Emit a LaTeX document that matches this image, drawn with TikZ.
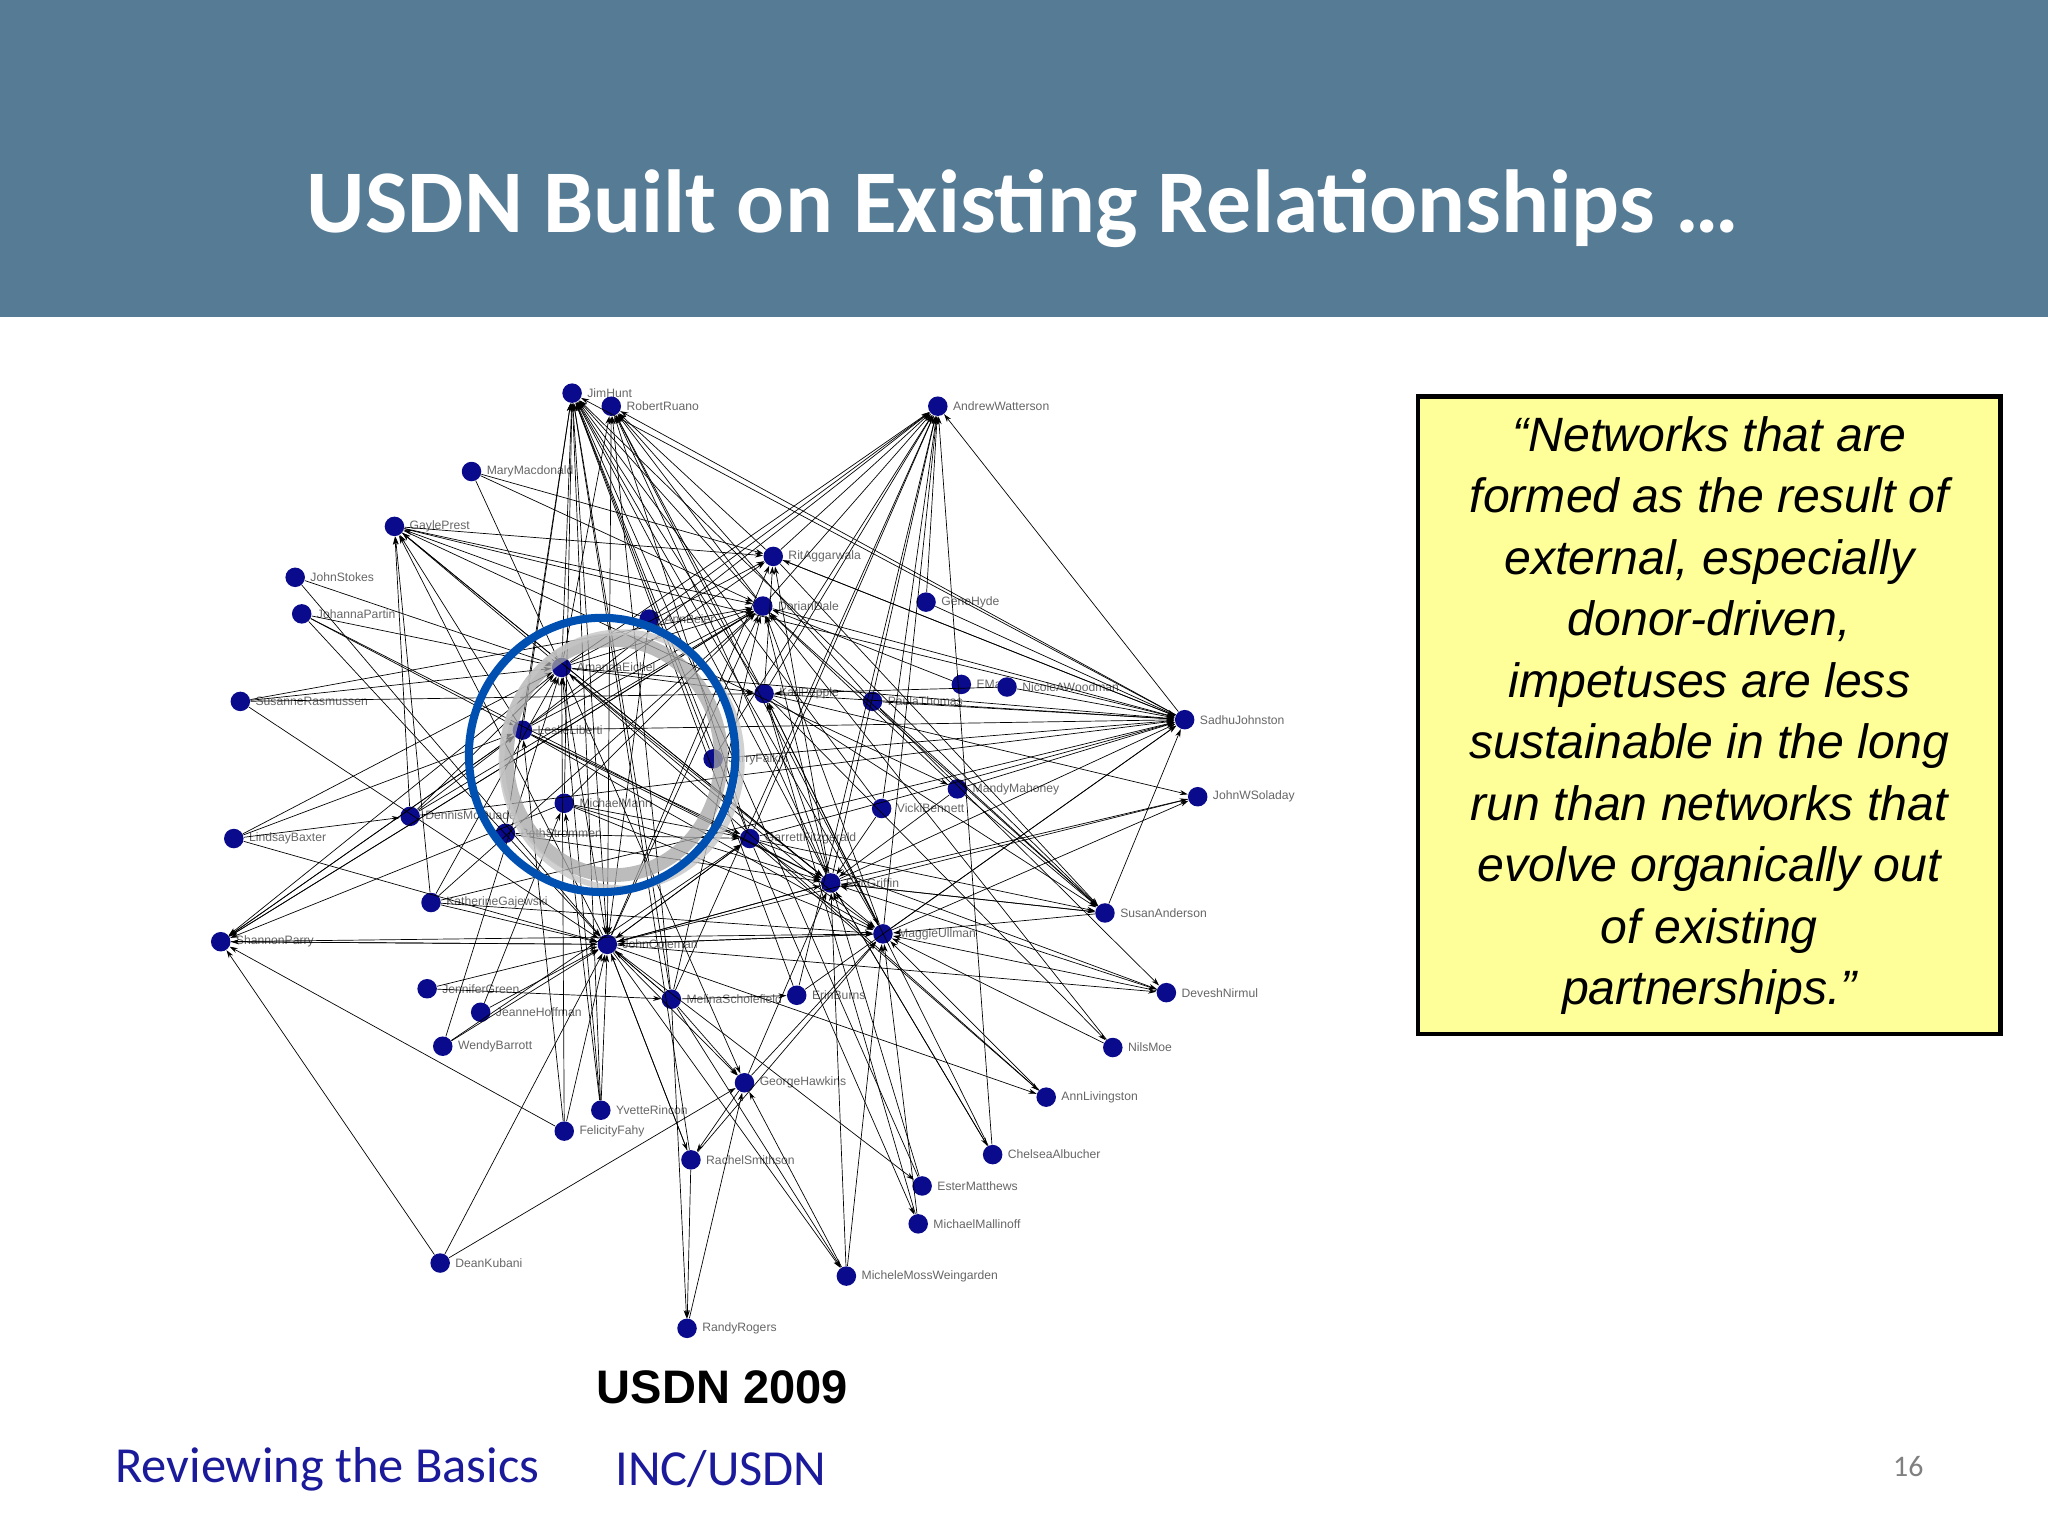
\documentclass[tikz,border=0pt]{standalone}
\usepackage{fontspec}
\setmainfont{Liberation Sans}
\newfontfamily\calfont{Carlito}
\usetikzlibrary{arrows.meta}
\definecolor{band}{HTML}{557B95}
\definecolor{nodeblue}{HTML}{0A0A8C}
\definecolor{boxy}{HTML}{FFFF99}
\definecolor{navy}{HTML}{1A1A9A}
\begin{document}
\begin{tikzpicture}[x=0.02cm,y=-0.02cm,
  nd/.style={circle,fill=nodeblue,inner sep=0pt,minimum size=8.5pt},
  lbl/.style={font=\fontsize{5.3}{6}\selectfont,text=black!60,inner sep=1pt,label distance=1pt},
  edge/.style={line width=0.3pt,-{Stealth[length=3.5pt,width=2.2pt]}}]
\useasboundingbox (0,0) rectangle (1568,1176);
\fill[band] (0,0) rectangle (1568,243);
\node (title) at (783,160) {\calfont\bfseries\fontsize{39}{46}\selectfont\color{white}USDN Built on Existing Relationships …};
% nodes
\foreach \id/\x/\y/\t in {
jh/438/301/JimHunt, rr/468/311/RobertRuano, aw/718/311/AndrewWatterson,
mm/361/361/MaryMacdonald, gp/302/403/GaylePrest, ra/592/426/RitAggarwala,
js/226/442/JohnStokes, jp/231/470/JohannaPartin, dd/584/464/DorianDale,
gh/709/461/GeneHyde, ab/497/474/AnnBeier, ae/430/511/AmandaEichel,
sr/184/537/SusanneRasmussen, kp/585/531/KarlPepple, pt/668/537/PaulaThomas,
em/736/524/EMar, nw/771/526/NicoleAWoodman, sj/907/551/SadhuJohnston,
ll/400/559/LeslieLiberti, fa/546/581/JarryFalkin, mh/733/604/MandyMahoney,
jw/917/610/JohnWSoladay, mi/432/615/MichaelMann, dm/314/625/DennisMcQuade,
vb/675/619/VickiBennett, bs/387/638/BethStrommen, gz/574/642/GarrettFitzgerald,
lb/179/642/LindsayBaxter, eg/636/676/EricGriffin, kg/330/691/KatherineGajewski,
sa/846/699/SusanAnderson, sp/169/721/ShannonParry, jc/465/723/JohnColeman,
mu/676/715/MaggieUllman, jg/327/757/JenniferGreen, dn/893/760/DeveshNirmul,
ms/514/765/MelinaScholefield, eb/610/762/ErinBurns, jho/368/775/JeanneHoffman,
wb/339/801/WendyBarrott, nm/852/802/NilsMoe, ghk/570/829/GeorgeHawkins,
al/801/840/AnnLivingston, yr/460/850/YvetteRincon, ff/432/866/FelicityFahy,
ca/760/884/ChelseaAlbucher, rs/529/888/RachelSmithson, emt/706/908/EsterMatthews,
mml/703/937/MichaelMallinoff, dk/337/967/DeanKubani, mmw/648/977/MicheleMossWeingarden,
rro/526/1017/RandyRogers}
  \node[nd,label={[lbl]right:\t}] (\id) at (\x,\y) {};
% edges
\foreach \a/\b in {
ae/jh,ll/jh,mi/jh,jc/jh,kp/jh,dd/jh,sj/jh,eg/jh,gz/jh,bs/jh,ms/jh,rs/jh,yr/jh,mu/jh,fa/jh,vb/jh,sa/jh,
ae/rr,dd/rr,kp/rr,sj/rr,eg/rr,jc/rr,mu/rr,ra/rr,pt/rr,gz/rr,ms/rr,
dd/aw,ra/aw,kp/aw,gz/aw,eg/aw,mu/aw,ll/aw,ae/aw,sj/aw,gh/aw,ms/aw,fa/aw,ca/aw,
gp/ra,ae/ra,mm/ra,sj/ra,ll/ra,jc/ra,kp/ra,eg/ra,
gp/dd,ae/dd,ll/dd,mi/dd,jc/dd,sp/dd,kg/dd,dm/dd,sr/dd,ms/dd,eg/dd,mu/dd,
ae/sj,kp/sj,dd/sj,ra/sj,pt/sj,gz/sj,eg/sj,mu/sj,sa/sj,dm/sj,ll/sj,kg/sj,fa/sj,gh/sj,nw/sj,mh/sj,
sp/jc,kg/jc,jg/jc,wb/jc,jho/jc,ff/jc,yr/jc,dk/jc,lb/jc,sr/jc,jp/jc,ae/jc,eg/jc,gz/jc,mu/jc,ms/jc,rs/jc,
ae/eg,ll/eg,mi/eg,gp/eg,jc/eg,sa/eg,dn/eg,ca/eg,ghk/eg,mmw/eg,emt/eg,kp/eg,vb/eg,mh/eg,bs/eg,
ae/mu,ll/mu,mi/mu,jc/mu,dn/mu,sa/mu,nm/mu,al/mu,mml/mu,ghk/mu,rs/mu,mmw/mu,kp/mu,gz/mu,
ae/gp,ll/gp,jc/gp,eg/gp,dm/gp,kg/gp,
kp/sa,pt/sa,dd/sa,ra/sa,gz/sa,eg/sa,mh/sa,
jc/ghk,ms/ghk,ae/ghk,rro/ghk,mmw/ghk,
ae/sp,ll/sp,mi/sp,dd/sp,jc/sp,dk/sp,ff/sp,
js/ae,jp/ae,sr/ae,mm/ae,dm/ae,lb/ae,ff/ae,wb/ae,yr/ae,
jp/ll,lb/ll,sp/ll,dm/ll,
ghk/rs,jc/rs,ms/rro,rs/rro,jc/mmw,ms/mmw,
eg/jw,mu/jw,kp/jw,gz/dn,jc/dn,pt/dn,kp/nm,gz/al,jc/al,eg/ca,jc/emt,gz/mml,
ae/kp,ll/gz,mi/gz,bs/gz,jc/gz,kg/mu,sp/mu,jg/ms,wb/gz,jho/mi,ms/jc,yr/mi,ff/ll,
gp/mh,gp/sj,sr/kp,js/jc,mm/dd,jp/eg,lb/dm,kg/ae,dk/ghk,ms/eb,eb/jh,eb/aw,eb/sj,
ab/aw,ab/jc,ab/gp,em/dd,nw/kp,jw/jc,vb/aw,mh/dd,ca/kp,al/ae,nm/dd,emt/jh,mml/kp}
  \draw[edge] (\a) -- (\b);
% circles
\draw[gray!70,line width=6pt,opacity=0.75] (470,580) ellipse (82 and 90);
\draw[gray!45,line width=2.5pt,opacity=0.8] (476,582) ellipse (92 and 98);
\draw[blue!55!cyan!70!black,line width=3.5pt] (461,578) ellipse (102 and 105);
% quote box
\node[draw=black,line width=2pt,fill=boxy,minimum width=8.92cm,minimum height=9.76cm,anchor=north west] (qbox) at (1084,302) {};
\node[align=center,font=\itshape\fontsize{21}{26.8}\selectfont] (qtxt) at (qbox.center)
 {“Networks that are\\ formed as the result of\\ external, especially\\ donor-driven,\\ impetuses are less\\ sustainable in the long\\ run than networks that\\ evolve organically out\\ of existing\\ partnerships.”};
\node (cap) at (553,1062) {\bfseries\fontsize{20.5}{24}\selectfont USDN 2009};
\node[anchor=west] (f1) at (82,1125) {\calfont\fontsize{22}{26}\selectfont\color{navy}Reviewing the Basics};
\node[anchor=west] (f2) at (465,1125) {\calfont\fontsize{22}{26}\selectfont\color{navy}INC/USDN};
\node (pg) at (1461,1123) {\calfont\fontsize{13}{16}\selectfont\color{black!50}16};
\end{tikzpicture}
\end{document}
